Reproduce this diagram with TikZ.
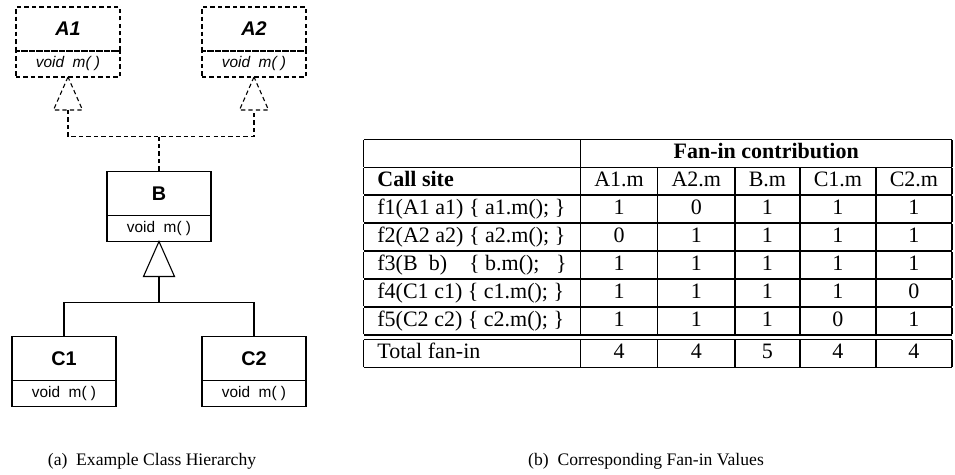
\documentclass[tikz,border=0pt]{standalone}
\usepackage{fontspec}
\setmainfont{Liberation Serif}
\setsansfont{Liberation Sans}
\usepackage{tikz}
\usetikzlibrary{positioning, calc}

\setlength\arrayrulewidth{0.7pt}
\setlength\tabcolsep{6.3pt}

\tikzset{
  cls/.style={draw, minimum width=47.3pt, minimum height=20pt,
    inner sep=0pt, outer sep=0pt, font=\sffamily\bfseries\fontsize{9}{10}\selectfont},
  meth/.style={draw, minimum width=47.3pt, minimum height=11.8pt,
    inner sep=0pt, outer sep=0pt, font=\sffamily\fontsize{7}{8}\selectfont},
  iface/.style={dash pattern=on 2pt off 1.4pt},
  subcap/.style={font=\fontsize{8}{10}\selectfont}
}

\begin{document}
\begin{tikzpicture}[x=0.4545pt, y=-0.4545pt, line width=0.5pt]
  \useasboundingbox (0,0) rectangle (955,474);
  % classes
  \node[cls, iface] (A1) at (68,29) {\itshape A1};
  \node[meth, iface, below=0pt of A1] (A1m) {\itshape void~~m(\ )};
  \node[cls, iface] (A2) at (254,29) {\itshape A2};
  \node[meth, iface, below=0pt of A2] (A2m) {\itshape void~~m(\ )};
  \node[cls] (B) at (159,193.5) {B};
  \node[meth, below=0pt of B] (Bm) {void~~m(\ )};
  \node[cls] (C1) at (64,358.5) {C1};
  \node[meth, below=0pt of C1] (C1m) {void~~m(\ )};
  \node[cls] (C2) at (254,358.5) {C2};
  \node[meth, below=0pt of C2] (C2m) {void~~m(\ )};

  % generalisation triangles
  \draw[iface] (A1m.south) -- ++(-14.5,33) -- ++(29,0) -- cycle;
  \draw[iface] (A2m.south) -- ++(-14.5,33) -- ++(29,0) -- cycle;
  \draw (Bm.south) -- ++(-15.5,35) -- ++(31,0) -- cycle;

  \coordinate (tA1) at ($(A1m.south)+(0,33)$);
  \coordinate (tA2) at ($(A2m.south)+(0,33)$);
  \coordinate (jA) at ($(B.north)+(0,-35)$);
  \draw[iface] (tA1) |- (jA) -| (tA2);
  \draw[iface] (jA) -- (B.north);

  \coordinate (tB) at ($(Bm.south)+(0,35)$);
  \coordinate (jB) at ($(tB)+(0,26)$);
  \draw (tB) -- (jB);
  \draw (jB) -| (C1.north);
  \draw (jB) -| (C2.north);

  % fan-in table
  \node[inner sep=0pt, anchor=north west, font=\fontsize{10}{12}\selectfont] (fanin) at (363,138) {%
    \begin{tabular}{|l|c|c|c|c|c|}
      \hline
       & \multicolumn{5}{c|}{\textbf{Fan-in contribution}} \\ \hline
      \textbf{Call site} & A1.m & A2.m & B.m & C1.m & C2.m \\ \hline
      f1(A1 a1) \{ a1.m(); \} & 1 & 0 & 1 & 1 & 1 \\ \hline
      f2(A2 a2) \{ a2.m(); \} & 0 & 1 & 1 & 1 & 1 \\ \hline
      f3(B~~b)~~~~\{ b.m();~~~\} & 1 & 1 & 1 & 1 & 1 \\ \hline
      f4(C1 c1) \{ c1.m(); \} & 1 & 1 & 1 & 1 & 0 \\ \hline
      f5(C2 c2) \{ c2.m(); \} & 1 & 1 & 1 & 0 & 1 \\ \hline\hline
      Total fan-in & 4 & 4 & 5 & 4 & 4 \\ \hline
    \end{tabular}};

  % captions
  \node[subcap] (capa) at (152,461) {(a)~~Example Class Hierarchy};
  \node[subcap] (capb) at (646,461) {(b)~~Corresponding Fan-in Values};
\end{tikzpicture}
\end{document}
